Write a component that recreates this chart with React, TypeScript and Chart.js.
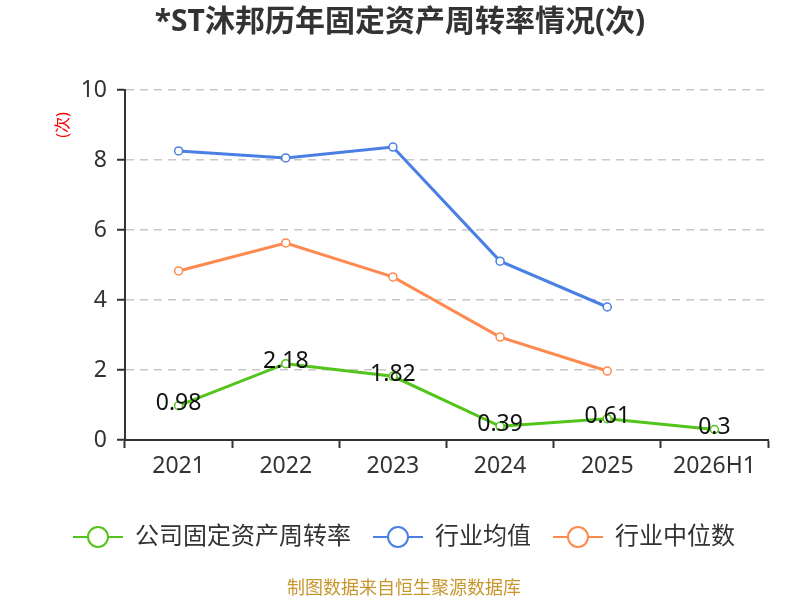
import React, { useEffect, useRef } from "react";
import Chart from "chart.js/auto";
import type { ChartConfiguration, Plugin } from "chart.js";

const categories = ["2021", "2022", "2023", "2024", "2025", "2026H1"];
const companyValues = [0.98, 2.18, 1.82, 0.39, 0.61, 0.3];
const industryAverage = [8.26, 8.06, 8.37, 5.11, 3.8, null];
const industryMedian = [4.83, 5.63, 4.66, 2.94, 1.97, null];
const yTicks = [0, 2, 4, 6, 8, 10];
const seriesNames = ["公司固定资产周转率", "行业均值", "行业中位数"];
const seriesColors = ["#52C41A", "#4A7FE3", "#FF8A50"];

const TITLE = "*ST沐邦历年固定资产周转率情况(次)";
const Y_TITLE = "(次)";
const FOOTER = "制图数据来自恒生聚源数据库";
const FONT = "'Noto Sans', 'Noto Sans CJK SC', sans-serif";

const overlayPlugin: Plugin = {
  id: "overlay",
  afterDatasetsDraw(chart) {
    // value labels for the company series
    const ctx = chart.ctx;
    const meta = chart.getDatasetMeta(0);
    ctx.save();
    ctx.fillStyle = "#111";
    ctx.font = `23px ${FONT}`;
    ctx.textAlign = "center";
    ctx.textBaseline = "middle";
    meta.data.forEach((point: any, i) => {
      ctx.fillText(String(companyValues[i]), point.x, point.y - 2);
    });
    ctx.restore();
  },
  afterDraw(chart) {
    const ctx = chart.ctx;
    ctx.save();

    // title
    ctx.fillStyle = "#333";
    ctx.font = `bold 30px ${FONT}`;
    ctx.textAlign = "center";
    ctx.textBaseline = "middle";
    ctx.fillText(TITLE, 400, 22);

    // y axis name
    ctx.save();
    ctx.translate(63, 125);
    ctx.rotate(-Math.PI / 2);
    ctx.fillStyle = "#FF0000";
    ctx.font = `16px ${FONT}`;
    ctx.fillText(Y_TITLE, 0, 0);
    ctx.restore();

    // legend
    ctx.font = `24px ${FONT}`;
    const lineLen = 50;
    const gapText = 12;
    const gapItem = 22;
    const widths = seriesNames.map((n) => ctx.measureText(n).width);
    const total =
      widths.reduce((a, b) => a + b, 0) + seriesNames.length * (lineLen + gapText) + gapItem * (seriesNames.length - 1);
    let x = 404 - total / 2;
    const ly = 537;
    seriesNames.forEach((name, i) => {
      ctx.strokeStyle = seriesColors[i];
      ctx.lineWidth = 2;
      ctx.beginPath();
      ctx.moveTo(x, ly);
      ctx.lineTo(x + lineLen, ly);
      ctx.stroke();
      ctx.beginPath();
      ctx.arc(x + lineLen / 2, ly, 10, 0, Math.PI * 2);
      ctx.fillStyle = "#fff";
      ctx.fill();
      ctx.stroke();
      ctx.fillStyle = "#333";
      ctx.textAlign = "left";
      ctx.fillText(name, x + lineLen + gapText, ly);
      x += lineLen + gapText + widths[i] + gapItem;
    });

    // footer
    ctx.fillStyle = "#C8962E";
    ctx.font = `18px ${FONT}`;
    ctx.textAlign = "center";
    ctx.fillText(FOOTER, 404, 589);

    ctx.restore();
  },
};

const lineDataset = (label: string, data: (number | null)[], color: string) => ({
  label,
  data,
  borderColor: color,
  backgroundColor: "#fff",
  borderWidth: 3,
  pointRadius: 4,
  pointBorderWidth: 1.5,
  pointBackgroundColor: "#fff",
  pointBorderColor: color,
  tension: 0,
  fill: false,
});

export default function App() {
  const canvasRef = useRef<HTMLCanvasElement | null>(null);

  useEffect(() => {
    const canvas = canvasRef.current;
    if (!canvas) return;

    const config: ChartConfiguration = {
      type: "line",
      data: {
        labels: categories,
        datasets: [
          lineDataset(seriesNames[0], companyValues, seriesColors[0]),
          lineDataset(seriesNames[1], industryAverage, seriesColors[1]),
          lineDataset(seriesNames[2], industryMedian, seriesColors[2]),
        ] as any,
      },
      options: {
        responsive: true,
        maintainAspectRatio: false,
        animation: false,
        layout: { padding: { left: 0, right: 32, top: 90, bottom: 120 } },
        plugins: {
          legend: { display: false },
          title: { display: false },
          tooltip: { enabled: false },
        },
        scales: {
          x: {
            type: "category",
            offset: true,
            afterFit: (scale: any) => {
              scale.height = 40;
            },
            grid: {
              display: true,
              offset: true,
              drawOnChartArea: false,
              drawTicks: true,
              tickLength: 8,
              tickColor: "#333",
              tickWidth: 2,
            },
            border: { display: true, color: "#333", width: 2 },
            ticks: {
              color: "#333",
              padding: 5,
              maxRotation: 0,
              font: { family: FONT, size: 23 },
            },
          },
          y: {
            type: "linear",
            min: 0,
            max: 10,
            afterFit: (scale: any) => {
              scale.width = 125;
            },
            afterBuildTicks: (scale: any) => {
              scale.ticks = yTicks.map((v) => ({ value: v }));
            },
            grid: {
              color: "#C8C8C8",
              lineWidth: 1.5,
              drawTicks: true,
              tickLength: 8,
              tickColor: "#333",
              tickWidth: 2,
              tickBorderDash: [],
            } as any,
            border: { display: true, color: "#333", width: 2, dash: [8, 6] },
            ticks: {
              color: "#333",
              padding: 10,
              font: { family: FONT, size: 23 },
            },
          },
        },
      },
      plugins: [overlayPlugin],
    };

    const chart = new Chart(canvas, config);
    return () => {
      chart.destroy();
    };
  }, []);

  return (
    <div style={{ position: "absolute", left: 0, top: 0, width: 800, height: 600, background: "#fff" }}>
      <canvas ref={canvasRef} />
    </div>
  );
}
